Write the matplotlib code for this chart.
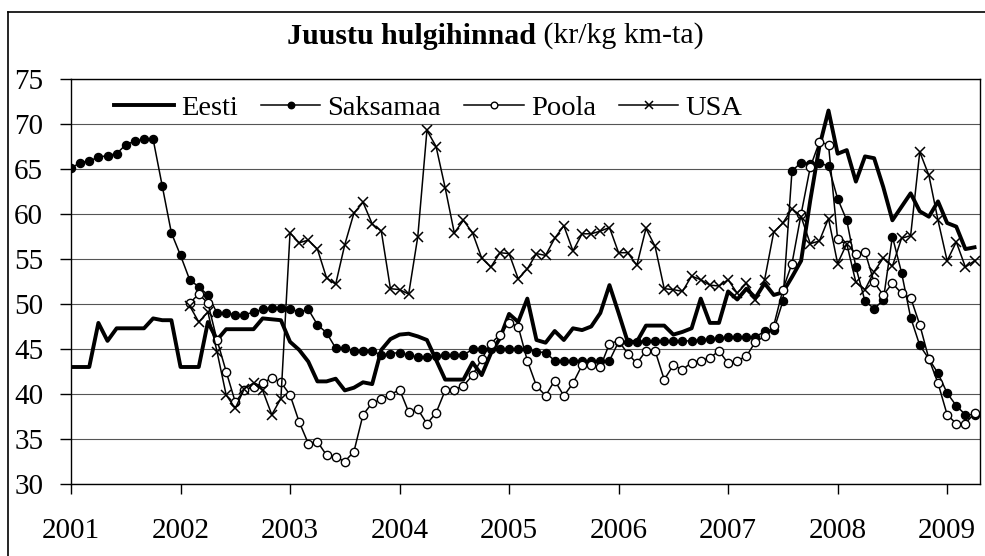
import numpy as np
import matplotlib
matplotlib.use('Agg')
import matplotlib.pyplot as plt
from matplotlib.lines import Line2D

plt.rcParams['font.family'] = ['Liberation Serif', 'DejaVu Serif']

# monthly wholesale cheese prices, Jan 2001 .. Apr 2009
years = [2001, 2002, 2003, 2004, 2005, 2006, 2007, 2008, 2009]

eesti = [43.0, 43.0, 43.0, 47.9, 45.9, 47.3, 47.3, 47.3, 47.3, 48.4, 48.2, 48.2,
         43.0, 43.0, 43.0, 48.0, 46.0, 47.2, 47.2, 47.2, 47.2, 48.4, 48.3, 48.2,
         45.8, 44.9, 43.6, 41.4, 41.4, 41.7, 40.4, 40.7, 41.3, 41.1, 44.9, 46.1,
         46.6, 46.7, 46.4, 46.0, 43.8, 41.6, 41.6, 41.6, 43.5, 42.1, 44.5, 46.2,
         48.9, 48.0, 50.6, 46.0, 45.7, 47.0, 46.0, 47.3, 47.1, 47.5, 49.0, 52.1,
         49.0, 45.8, 45.8, 47.6, 47.6, 47.6, 46.6, 46.9, 47.3, 50.6, 47.9, 47.9,
         51.4, 50.5, 51.7, 50.7, 52.3, 51.0, 51.3, 53.0, 54.8, 61.5, 67.5, 71.5,
         66.7, 67.1, 63.6, 66.4, 66.2, 63.0, 59.3, 60.8, 62.3, 60.3, 59.7, 61.4,
         59.0, 58.6, 56.1, 56.3]

saksamaa = [65.1, 65.7, 65.9, 66.3, 66.5, 66.7, 67.7, 68.1, 68.3, 68.3, 63.1, 57.9,
            55.4, 52.7, 51.9, 51.0, 49.0, 49.0, 48.8, 48.8, 49.1, 49.4, 49.6, 49.6,
            49.5, 49.1, 49.4, 47.7, 46.8, 45.1, 45.1, 44.8, 44.8, 44.8, 44.3, 44.5,
            44.6, 44.3, 44.1, 44.1, 44.2, 44.3, 44.3, 44.3, 45.0, 45.0, 45.0, 45.0,
            45.0, 45.0, 45.0, 44.7, 44.6, 43.7, 43.7, 43.7, 43.7, 43.7, 43.7, 43.7,
            45.8, 45.8, 45.8, 45.9, 45.9, 45.9, 45.9, 45.9, 45.9, 46.0, 46.1, 46.2,
            46.3, 46.3, 46.3, 46.3, 47.0, 47.1, 50.3, 64.8, 65.7, 65.6, 65.7, 65.3,
            61.7, 59.3, 54.1, 50.3, 49.5, 50.4, 57.5, 53.5, 48.5, 45.4, 43.9, 42.3,
            40.1, 38.7, 37.7, 37.7]

nan = np.nan
poola = [nan] * 13 + [
    50.1, 51.1, 50.1, 46.0, 42.5, 39.1, 40.4, 40.8, 41.2, 41.8, 41.3,
    39.9, 36.9, 34.5, 34.7, 33.2, 33.0, 32.5, 33.6, 37.7, 39.0, 39.4, 39.9,
    40.5, 38.0, 38.3, 36.7, 37.9, 40.4, 40.5, 40.9, 42.1, 43.9, 45.6, 46.6,
    47.9, 47.5, 43.7, 40.9, 39.8, 41.5, 39.8, 41.2, 43.2, 43.2, 43.0, 45.6,
    45.9, 44.5, 43.4, 44.8, 44.8, 41.6, 43.2, 42.7, 43.5, 43.7, 44.0, 44.8,
    43.4, 43.7, 44.2, 45.8, 46.4, 47.6, 51.6, 54.5, 60.0, 65.2, 68.0, 67.7,
    57.2, 56.6, 55.6, 55.8, 52.4, 51.0, 52.3, 51.2, 50.7, 47.7, 43.9, 41.2,
    37.7, 36.7, 36.7, 37.9]

usa = [nan] * 13 + [
    49.8, 48.0, 49.1, 44.7, 39.9, 38.4, 40.6, 41.2, 40.4, 37.7, 39.5,
    57.9, 56.8, 57.1, 56.1, 52.9, 52.2, 56.6, 60.1, 61.3, 58.9, 58.1, 51.7,
    51.6, 51.1, 57.5, 69.3, 67.5, 62.9, 57.9, 59.3, 57.9, 55.1, 54.1, 55.7,
    55.6, 52.8, 53.9, 55.6, 55.4, 57.3, 58.7, 55.9, 57.8, 57.8, 58.1, 58.5,
    55.7, 55.7, 54.3, 58.4, 56.4, 51.7, 51.6, 51.4, 53.1, 52.7, 52.1, 52.0,
    52.7, 51.2, 52.3, 50.4, 52.7, 58.0, 59.0, 60.6, 59.7, 56.7, 57.0, 59.5,
    54.5, 56.7, 52.4, 51.6, 53.6, 55.1, 54.2, 57.3, 57.6, 66.9, 64.3, 59.3,
    54.8, 56.9, 54.1, 54.8]

t = 2001 + np.arange(len(eesti)) / 12.0

W, H = 985, 556
fig = plt.figure(figsize=(W / 100, H / 100), dpi=100)
ax = fig.add_axes([71 / W, 1 - 484 / H, 909 / W, 405 / H])

ax.plot(t, eesti, color='black', lw=2.8, label='Eesti', zorder=3)
ax.plot(t, saksamaa, color='black', lw=1.1, marker='o', ms=5.8,
        mfc='black', mec='black', label='Saksamaa', zorder=4)
ax.plot(t, poola, color='black', lw=1.1, marker='o', ms=6,
        mfc='white', mec='black', mew=1.0, label='Poola', zorder=4)
ax.plot(t, usa, color='black', lw=1.1, marker='x', ms=7.5,
        mew=1.1, label='USA', zorder=4)

ax.set_xlim(2001, 2009.3)
ax.set_ylim(30, 75)
ax.set_yticks(range(30, 76, 5))
ax.set_xticks(years)
ax.set_xticklabels([str(y) for y in years])
ax.grid(axis='y', color='#555555', lw=0.8)
ax.set_axisbelow(True)
for s in ax.spines.values():
    s.set_color('black')
    s.set_linewidth(1.0)
ax.tick_params(axis='y', direction='out', length=8, width=1, pad=12, labelsize=21)
ax.tick_params(axis='x', direction='out', length=7.5, width=1, pad=17, labelsize=21)

leg = ax.legend(loc='center left', bbox_to_anchor=(100 / W, 1 - 108 / H),
                bbox_transform=fig.transFigure, ncol=4, frameon=False,
                fontsize=20.5, handlelength=2.1, handletextpad=0.25,
                columnspacing=0.8, borderpad=0, markerscale=0.8)

# title: bold part + normal part, centred together
ty = 1 - 36 / H
t1 = fig.text(0, ty, 'Juustu hulgihinnad', weight='bold', fontsize=21.5,
              ha='left', va='center')
t2 = fig.text(0, ty, ' (kr/kg km-ta)', fontsize=21.5, ha='left', va='center')
fig.canvas.draw()
r = fig.canvas.get_renderer()
w1 = t1.get_window_extent(r).width
w2 = t2.get_window_extent(r).width
x0 = 495 - (w1 + w2) / 2
t1.set_x(x0 / W)
t2.set_x((x0 + w1) / W)

# outer chart border (right and bottom edges fall outside the image)
fig.add_artist(Line2D([8 / W, 8 / W], [0, 1 - 12 / H], color='black', lw=1.2,
                      transform=fig.transFigure))
fig.add_artist(Line2D([8 / W, 1], [1 - 12 / H, 1 - 12 / H], color='black', lw=1.2,
                      transform=fig.transFigure))

fig.savefig('out.png', dpi=100)
